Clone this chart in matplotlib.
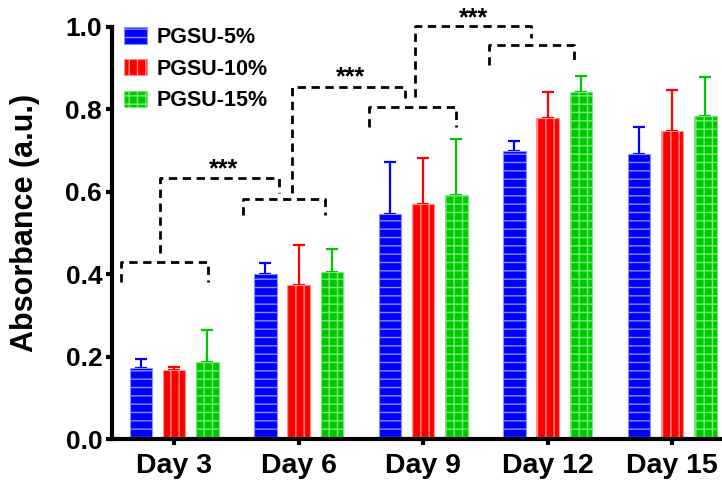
import matplotlib.pyplot as plt
import numpy as np

plt.rcParams['font.family'] = ['Liberation Sans', 'DejaVu Sans']
plt.rcParams['font.weight'] = 'bold'
plt.rcParams['hatch.linewidth'] = 1.0

# Данные
days = ['Day 3', 'Day 6', 'Day 9', 'Day 12', 'Day 15']
labels = ['PGSU-5%', 'PGSU-10%', 'PGSU-15%']
mean_5 = [0.173, 0.400, 0.546, 0.698, 0.691]
mean_10 = [0.167, 0.374, 0.570, 0.778, 0.747]
mean_15 = [0.188, 0.406, 0.592, 0.841, 0.784]
sd_5 = [0.021, 0.027, 0.126, 0.026, 0.065]
sd_10 = [0.008, 0.096, 0.113, 0.064, 0.100]
sd_15 = [0.077, 0.054, 0.136, 0.039, 0.095]

# Скобки значимости (ломаные линии) и звёздочки
brackets = [
    [(-0.429, 0.381), (-0.429, 0.430), (0.269, 0.430), (0.269, 0.381)],
    [(0.552, 0.543), (0.552, 0.582), (1.213, 0.582), (1.213, 0.543)],
    [(-0.116, 0.451), (-0.116, 0.633), (0.839, 0.633), (0.839, 0.597)],
    [(0.949, 0.597), (0.949, 0.854), (1.850, 0.854), (1.850, 0.828)],
    [(1.561, 0.757), (1.561, 0.806), (2.267, 0.806), (2.267, 0.757)],
    [(2.532, 0.908), (2.532, 0.956), (3.214, 0.956), (3.214, 0.908)],
    [(1.938, 0.830), (1.938, 1.002), (2.869, 1.002), (2.869, 0.973)],
]
stars = [(0.397, 0.655), (1.417, 0.878), (2.404, 1.022)]

fig = plt.figure(figsize=(7.22, 4.82), dpi=100)
ax = fig.add_axes([0.155, 0.0892, 0.845, 0.855])

x = np.arange(len(days))
w = 0.18
off = 0.267
series = [
    (mean_5, sd_5, '#0000ff', '#8c8cff', '--'),
    (mean_10, sd_10, '#ff0000', '#ff9090', '||'),
    (mean_15, sd_15, '#00c800', '#74ec74', '++'),
]
for i, (m, sd, c, hc, h) in enumerate(series):
    pos = x + (i - 1) * off
    ax.errorbar(pos, m, yerr=[np.zeros(len(m)), sd], fmt='none', ecolor=c,
                elinewidth=1.6, capsize=4, capthick=1.6, zorder=1)
    ax.bar(pos, m, w, color=c, edgecolor=hc, hatch=h, linewidth=0.8,
           label=labels[i], zorder=2)

for b in brackets:
    bx, by = zip(*b)
    ax.plot(bx, by, color='black', lw=2, linestyle=(0, (3, 2)), clip_on=False)
for sx, sy in stars:
    ax.text(sx, sy, '***', ha='center', va='center', fontsize=18,
            fontweight='bold')

ax.set_xlim(-0.5, 4.40)
ax.set_ylim(0, 1.0)
ax.set_xticks(x)
ax.set_xticklabels(days, fontsize=20.5, fontweight='bold')
ax.set_yticks([0.0, 0.2, 0.4, 0.6, 0.8, 1.0])
ax.set_yticklabels(['0.0', '0.2', '0.4', '0.6', '0.8', '1.0'], fontsize=19,
                   fontweight='bold')
ax.set_ylabel('Absorbance (a.u.)', fontsize=22, fontweight='bold')
ax.yaxis.set_label_coords(-0.118, 0.525)
ax.tick_params(width=3, length=4, pad=3)
ax.tick_params(axis='x', pad=6)
for s in ['top', 'right']:
    ax.spines[s].set_visible(False)
for s in ['left', 'bottom']:
    ax.spines[s].set_linewidth(3)

ax.legend(loc='upper left', bbox_to_anchor=(0.02, 1.0), frameon=False,
          prop={'size': 15.5, 'weight': 'bold'}, handlelength=1.05,
          handleheight=0.8, handletextpad=0.45, labelspacing=0.5,
          borderpad=0, borderaxespad=0)

plt.savefig('out.png', dpi=100)
